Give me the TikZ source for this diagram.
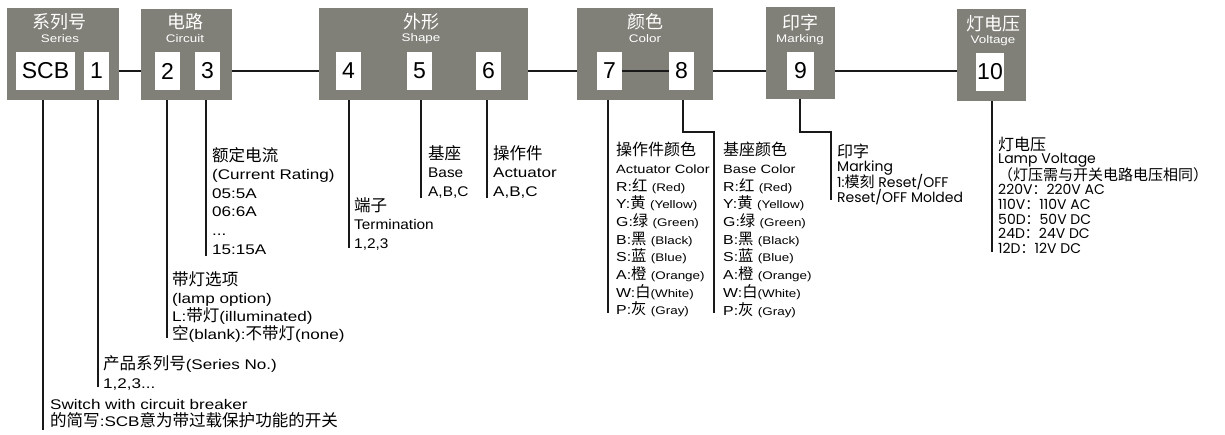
\documentclass[tikz,border=0pt]{standalone}
\usepackage{fontspec}
\setmainfont{Liberation Sans}[FakeStretch=1.22]
\newfontfamily\plainsans{Liberation Sans}
\newfontfamily\midsans{Liberation Sans}[FakeStretch=1.1]
\newfontfamily\cjk{Noto Sans CJK SC}
\newfontfamily\cjkb{Noto Sans CJK SC}[Scale=1.18]
\newfontfamily\geo{Poppins}
\newcommand\zh[1]{{\cjkb #1}}
\newcommand\sm[1]{{\fontsize{11}{11}\selectfont #1}}
\newcommand\tight{\lineskiplimit=-20pt\lineskip=0pt}
\definecolor{boxgray}{RGB}{128,128,120}
\begin{document}
\begin{tikzpicture}[x=1pt,y=-1pt,
  grp/.style={fill=boxgray,draw=none,inner sep=0,outer sep=0,anchor=north west},
  num/.style={fill=white,inner sep=0,outer sep=0,minimum height=38,font=\plainsans\fontsize{23}{23}\selectfont},
  ttl/.style={text=white,inner sep=0,font=\cjk\fontsize{18}{18}\selectfont},
  sub/.style={text=white,inner sep=0,font=\fontsize{11}{11}\selectfont},
  link/.style={line width=2.8pt,draw=black!90},
  lead/.style={line width=2pt,draw=black!90},
  desc/.style={anchor=north west,inner sep=0,align=left,font=\fontsize{14}{18.3}\selectfont\tight},
  cdesc/.style={anchor=north west,inner sep=0,align=left,font=\fontsize{13}{17.7}\selectfont\tight},
  gdesc/.style={anchor=north west,inner sep=0,align=left,font=\geo\fontsize{14}{14.6}\selectfont\tight},
]
\useasboundingbox (0,0) rectangle (1225,434);

% group boxes
\node[grp,minimum width=112,minimum height=92] (g1) at (7,8) {};
\node[grp,minimum width=91,minimum height=91] (g2) at (141,9) {};
\node[grp,minimum width=209,minimum height=92] (g3) at (319,8) {};
\node[grp,minimum width=136,minimum height=92] (g4) at (577,8) {};
\node[grp,minimum width=69,minimum height=92] (g5) at (766,7) {};
\node[grp,minimum width=69,minimum height=92] (g6) at (957,9) {};

% titles
\node[ttl] (t1) at (59,22) {系列号};
\node[sub] (s1) at (60,39) {Series};
\node[ttl] (t2) at (185,22) {电路};
\node[sub] (s2) at (185,39) {Circuit};
\node[ttl] (t3) at (421,22) {外形};
\node[sub] (s3) at (421,39) {Shape};
\node[ttl] (t4) at (645,22) {颜色};
\node[sub] (s4) at (645,39) {Color};
\node[ttl] (t5) at (800,23) {印字};
\node[sub] (s5) at (800,40) {Marking};
\node[ttl] (t6) at (993,24) {灯电压};
\node[sub] (s6) at (993,41) {Voltage};

% white code boxes
\node[num,minimum width=59] (nscb) at (45.5,71) {SCB};
\node[num,minimum width=25] (n1) at (96.5,71) {1};
\node[num,minimum width=25] (n2) at (167.5,71) {2};
\node[num,minimum width=25] (n3) at (207.5,71) {3};
\node[num,minimum width=25] (n4) at (348.5,71) {4};
\node[num,minimum width=25] (n5) at (419.5,71) {5};
\node[num,minimum width=25] (n6) at (488.5,71) {6};
\node[num,minimum width=25] (n7) at (609.5,71) {7};
\node[num,minimum width=25] (n8) at (681.5,71) {8};
\node[num,minimum width=27] (n9) at (800.5,71) {9};
\node[num,minimum width=28] (n10) at (990,72) {10};

% connectors between groups
\draw[link] (n1.east -| g1.east) -- (n1.east -| g2.west);
\draw[link] (n3.east -| g2.east) -- (n3.east -| g3.west);
\draw[link] (n6.east -| g3.east) -- (n6.east -| g4.west);
\draw[link] (n7.east) -- (n8.west);
\draw[link] (n8.east -| g4.east) -- (n8.east -| g5.west);
\draw[link] (n9.east -| g5.east) -- (n9.east -| g6.west);

% descriptions
\node[desc,font=\fontsize{14}{17.5}\selectfont\tight] (dA) at (50,399) {Switch with circuit breaker\\\zh{的简写}:SCB\zh{意为带过载保护功能的开关}};
\node[desc,font=\fontsize{14}{19}\selectfont\tight] (dB) at (103,355) {\zh{产品系列号}(Series No.)\\1,2,3...};
\node[desc] (dC) at (172,271) {\zh{带灯选项}\\(lamp option)\\L:\zh{带灯}(illuminated)\\\zh{空}(blank):\zh{不带灯}(none)};
\node[desc,font=\fontsize{14}{18.6}\selectfont\tight] (dD) at (212,147) {\zh{额定电流}\\(Current Rating)\\05:5A\\06:6A\\...\\15:15A};
\node[desc,font=\midsans\fontsize{14}{18.5}\selectfont\tight] (dE) at (354,197) {\zh{端子}\\Termination\\1,2,3};
\node[desc,font=\midsans\fontsize{14}{18.5}\selectfont\tight] (dF) at (428,145) {\zh{基座}\\Base\\A,B,C};
\node[desc,font=\fontsize{14}{18.5}\selectfont\tight] (dG) at (493,145) {\zh{操作件}\\Actuator\\A,B,C};
\node[cdesc] (dH) at (616,142) {{\cjk\fontsize{16}{16}\selectfont 操作件颜色}\\{\fontsize{12}{12}\selectfont Actuator Color}\\
R:\zh{红} \sm{(Red)}\\Y:\zh{黄} \sm{(Yellow)}\\G:\zh{绿} \sm{(Green)}\\B:\zh{黑} \sm{(Black)}\\
S:\zh{蓝} \sm{(Blue)}\\A:\zh{橙} \sm{(Orange)}\\W:\zh{白}\sm{(White)}\\P:\zh{灰} \sm{(Gray)}};
\node[cdesc] (dI) at (723,142) {{\cjk\fontsize{16}{16}\selectfont 基座颜色}\\{\fontsize{12}{12}\selectfont Base Color}\\
R:\zh{红} \sm{(Red)}\\Y:\zh{黄} \sm{(Yellow)}\\G:\zh{绿} \sm{(Green)}\\B:\zh{黑} \sm{(Black)}\\
S:\zh{蓝} \sm{(Blue)}\\A:\zh{橙} \sm{(Orange)}\\W:\zh{白}\sm{(White)}\\P:\zh{灰} \sm{(Gray)}};
\node[gdesc] (dJ) at (837,144) {{\cjk\fontsize{16}{16}\selectfont 印字}\\[-1pt]Marking\\[1.5pt]1:{\cjk\fontsize{15}{15}\selectfont 模刻} Reset/OFF\\Reset/OFF Molded};
\node[gdesc] (dK) at (998,137) {{\cjk\fontsize{16}{16}\selectfont 灯电压}\\[-2pt]Lamp Voltage\\[3pt]{\cjk\fontsize{15}{15}\selectfont （灯压需与开关电路电压相同）}\\[-0.5pt]220V{\cjk：}220V AC\\110V{\cjk：}110V AC\\50D{\cjk：}50V DC\\24D{\cjk：}24V DC\\12D{\cjk：}12V DC};

% leader lines
\coordinate (eA) at (43,430);
\coordinate (eB) at (98,387);
\coordinate (eC) at (167,338);
\coordinate (eD) at (206,256);
\coordinate (eE) at (349,248);
\coordinate (eF) at (421,198);
\coordinate (eG) at (487,198);
\coordinate (eH) at (608,313);
\coordinate (bI) at (683,132);
\coordinate (eI) at (714,313);
\coordinate (bJ) at (800,132);
\coordinate (eJ) at (831,200);
\coordinate (eK) at (992,252);
\draw[lead] (eA |- g1.south) -- (eA);
\draw[lead] (eB |- g1.south) -- (eB);
\draw[lead] (eC |- g2.south) -- (eC);
\draw[lead] (eD |- g2.south) -- (eD);
\draw[lead] (eE |- g3.south) -- (eE);
\draw[lead] (eF |- g3.south) -- (eF);
\draw[lead] (eG |- g3.south) -- (eG);
\draw[lead] (eH |- g4.south) -- (eH);
\draw[lead] (bI |- g4.south) -- (bI) -| (eI);
\draw[lead] (bJ |- g5.south) -- (bJ) -| (eJ);
\draw[lead] (eK |- g6.south) -- (eK);
\end{tikzpicture}
\end{document}
